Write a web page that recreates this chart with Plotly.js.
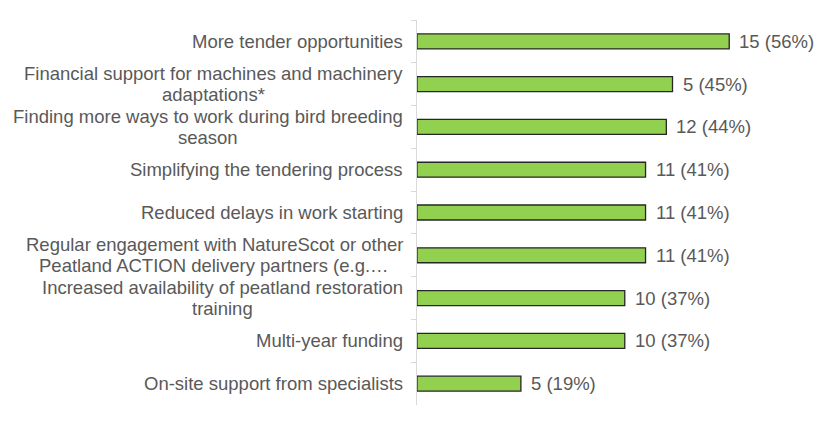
<!DOCTYPE html>
<html>
<head>
<meta charset="utf-8">
<script src="https://cdn.plot.ly/plotly-3.0.1.min.js"></script>
<style>html,body{margin:0;padding:0;background:#fff;}#chart{width:830px;height:426px;}</style>
</head>
<body>
<div id="chart"></div>
<script>
const categories = [
  "More tender opportunities",
  "Financial support for machines and machinery<br>adaptations*",
  "Finding more ways to work during bird breeding<br>season",
  "Simplifying the tendering process",
  "Reduced delays in work starting",
  "Regular engagement with NatureScot or other<br>Peatland ACTION delivery partners (e.g.…",
  "Increased availability of peatland restoration<br>training",
  "Multi-year funding",
  "On-site support from specialists"
];
const percentages = [55.6, 45.5, 44.4, 40.7, 40.7, 40.7, 37.0, 37.0, 18.5];
const counts = [15, 5, 12, 11, 11, 11, 10, 10, 5];
const pctLabels = ["56%", "45%", "44%", "41%", "41%", "41%", "37%", "37%", "19%"];

const FONT = "Liberation Sans, Arial, sans-serif";
const FSIZE = 18.5;
const TXT = "#595959";

const ctx = document.createElement("canvas").getContext("2d");
ctx.font = FSIZE + "px 'Liberation Sans', Arial, sans-serif";
function textWidth(s) { return ctx.measureText(s).width; }

const trace = {
  type: "bar",
  orientation: "h",
  y: categories,
  x: percentages,
  marker: {color: "#92D050", line: {color: "#262626", width: 1.3}},
  hoverinfo: "none"
};

const annotations = [];
categories.forEach((cat, i) => {
  const lines = cat.split("<br>");
  const n = lines.length;
  const maxW = Math.max(...lines.map(textWidth));
  lines.forEach((ln, j) => {
    annotations.push({
      xref: "paper", yref: "y", x: 0, y: cat,
      xanchor: "center", yanchor: "middle", xshift: -14 - maxW / 2,
      yshift: ((n - 1) / 2 - j) * 21,
      text: ln, showarrow: false,
      font: {family: FONT, size: FSIZE, color: TXT}
    });
  });
  annotations.push({
    xref: "x", yref: "y", x: percentages[i], y: cat,
    xanchor: "left", yanchor: "middle", xshift: 8,
    text: counts[i] + " (" + pctLabels[i] + ")", showarrow: false,
    font: {family: FONT, size: FSIZE, color: TXT}
  });
});

const layout = {
  width: 830, height: 426,
  margin: {l: 417, r: 80, t: 20, b: 21, pad: 0},
  paper_bgcolor: "#fff", plot_bgcolor: "#fff",
  bargap: 0.65,
  showlegend: false,
  font: {family: FONT, size: FSIZE, color: TXT},
  xaxis: {range: [0, 59.3], showgrid: false, zeroline: false, showticklabels: false, showline: false, fixedrange: true},
  yaxis: {
    type: "category", autorange: "reversed",
    showline: true, linecolor: "#d9d9d9", linewidth: 1,
    ticks: "outside", tickson: "boundaries", ticklen: 5, tickcolor: "#d9d9d9", tickwidth: 1,
    showticklabels: false, showgrid: false, zeroline: false
  },
  annotations: annotations
};

Plotly.newPlot("chart", [trace], layout, {displayModeBar: false, staticPlot: true});
</script>
</body>
</html>
